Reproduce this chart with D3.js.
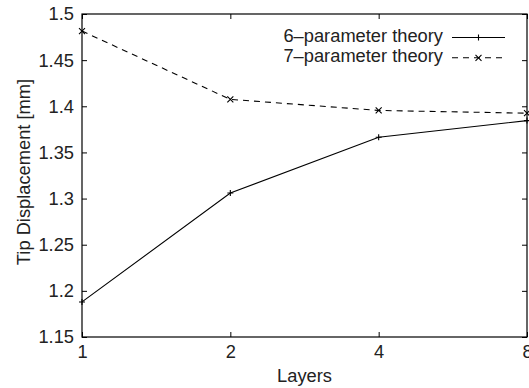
<!DOCTYPE html>
<html><head><meta charset="utf-8">
<script src="https://cdn.jsdelivr.net/npm/d3@7"></script>
<style>body{margin:0;background:#fff}svg{display:block}text{font-family:"Liberation Sans",Arial,sans-serif;fill:#222}</style>
</head><body><svg id="c" width="529" height="388"></svg>
<script>
const layers = [1, 2, 4, 8];
const sixParam = [1.188, 1.306, 1.3665, 1.3845];
const sevenParam = [1.4815, 1.4075, 1.3955, 1.3925];
const yTicks = [1.15, 1.2, 1.25, 1.3, 1.35, 1.4, 1.45, 1.5];
const seriesNames = ["6\u2013parameter theory", "7\u2013parameter theory"];

const svg = d3.select("#c");
const L = 82, R = 527, T = 14, B = 337, fs = 18.3;
const x = d3.scaleLog().base(2).domain([1, 8]).range([L, R]);
const y = d3.scaleLinear().domain([1.15, 1.5]).range([B, T]);

const tk = 5;
const gb = svg.append("g").attr("transform", `translate(0,${B})`)
  .call(d3.axisBottom(x).tickValues(layers).tickFormat(d3.format("d")).tickSizeInner(-tk).tickSizeOuter(0).tickPadding(8));
const gt = svg.append("g").attr("transform", `translate(0,${T})`)
  .call(d3.axisTop(x).tickValues(layers).tickFormat("").tickSizeInner(-tk).tickSizeOuter(0));
const gl = svg.append("g").attr("transform", `translate(${L},0)`)
  .call(d3.axisLeft(y).tickValues(yTicks).tickFormat(d => +d.toFixed(2) + "").tickSizeInner(-tk).tickSizeOuter(0).tickPadding(8));
const gr = svg.append("g").attr("transform", `translate(${R},0)`)
  .call(d3.axisRight(y).tickValues(yTicks).tickFormat("").tickSizeInner(-tk).tickSizeOuter(0));
[gb, gt, gl, gr].forEach(g => {
  g.select(".domain").remove();
  g.selectAll("line").attr("stroke", "#000").attr("stroke-width", 1);
  g.selectAll("text").style("font-size", fs + "px").attr("fill", "#222");
});
svg.append("rect").attr("x", L).attr("y", T).attr("width", R - L).attr("height", B - T)
  .attr("fill", "none").attr("stroke", "#000").attr("stroke-width", 1.2);

svg.append("text").attr("x", (L + R) / 2).attr("y", 382).attr("text-anchor", "middle")
  .style("font-size", fs + "px").text("Layers");
svg.append("text").attr("transform", `translate(30,172) rotate(-90)`)
  .attr("text-anchor", "middle").style("font-size", fs + "px").text("Tip Displacement [mm]");

const line = d3.line().x((d, i) => x(layers[i])).y(d => y(d));
const series = [
  { vals: sixParam, dash: null, marker: "plus" },
  { vals: sevenParam, dash: "6,5", marker: "cross" }
];
function drawMarker(g, type, cx, cy) {
  const s = 3;
  const p = type === "plus"
    ? `M${cx - s},${cy}H${cx + s}M${cx},${cy - s}V${cy + s}`
    : `M${cx - s},${cy - s}L${cx + s},${cy + s}M${cx - s},${cy + s}L${cx + s},${cy - s}`;
  g.append("path").attr("d", p).attr("stroke", "#000").attr("stroke-width", 1.1).attr("fill", "none");
}
series.forEach((s, si) => {
  svg.append("path").datum(s.vals).attr("d", line).attr("fill", "none")
    .attr("stroke", "#000").attr("stroke-width", 1.1).attr("stroke-dasharray", s.dash);
  const g = svg.append("g");
  s.vals.forEach((v, i) => drawMarker(g, s.marker, x(layers[i]), y(v)));
  const ly = 37.5 + si * 20.3;
  svg.append("text").attr("x", 443).attr("y", ly + 4.5).attr("text-anchor", "end")
    .style("font-size", fs + "px").text(seriesNames[si]);
  svg.append("line").attr("x1", 452).attr("x2", 505).attr("y1", ly).attr("y2", ly)
    .attr("stroke", "#000").attr("stroke-width", 1.1).attr("stroke-dasharray", s.dash);
  drawMarker(svg, s.marker, 478.5, ly);
});
</script></body></html>
